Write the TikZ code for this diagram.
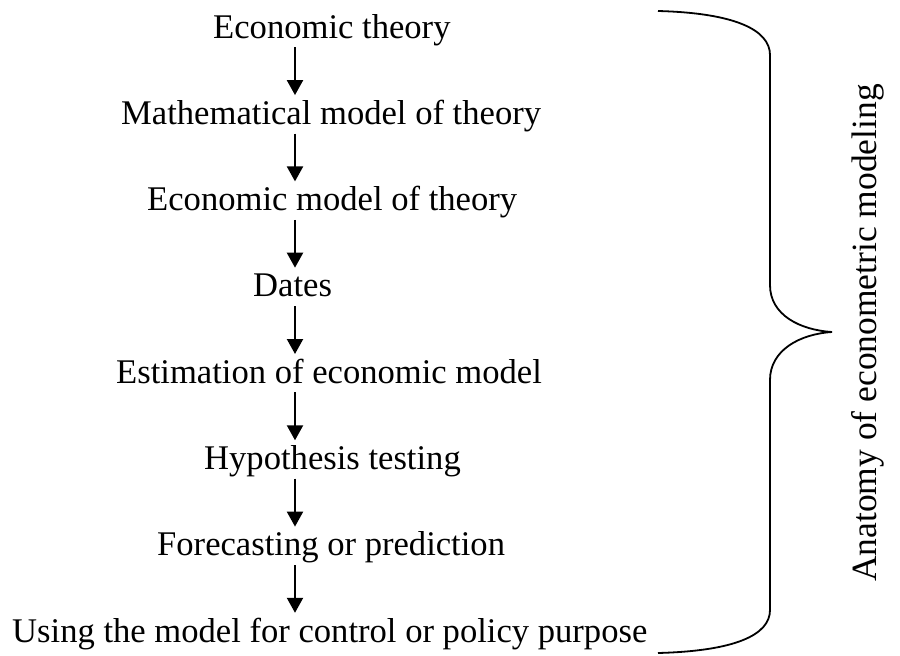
\documentclass[tikz,border=0pt]{standalone}
\usepackage{fontspec}
\setmainfont{Liberation Serif}
\usetikzlibrary{arrows.meta}
\begin{document}
\begin{tikzpicture}[x=1pt,y=-1pt,
  lbl/.style={anchor=base west,inner sep=0pt,text height=22pt,text depth=9pt,font=\fontsize{34.6}{40}\selectfont},
  arr/.style={line width=2.2pt,-{Triangle[width=16pt,length=15pt]},shorten >=7pt},
  brace/.style={line width=1.8pt}]
\useasboundingbox (0,0) rectangle (900,656);
\coordinate (ax) at (295,0);
\node[lbl] (n0) at (213,38) {Economic theory};
\node[lbl] (n1) at (121,124.3) {Mathematical model of theory};
\node[lbl] (n2) at (147,210.6) {Economic model of theory};
\node[lbl] (n3) at (253,296.9) {Dates};
\node[lbl] (n4) at (116,383.2) {Estimation of economic model};
\node[lbl] (n5) at (204,469.5) {Hypothesis testing};
\node[lbl] (n6) at (157,555.8) {Forecasting or prediction};
\node[lbl] (n7) at (12,642) {Using the model for control or policy purpose};
\foreach \a/\b in {n0/n1,n1/n2,n2/n3,n3/n4,n4/n5,n5/n6,n6/n7}
  \draw[arr] (\a.south -| ax) -- (\b.north -| ax);
\draw[brace] (658,11) .. controls (735,13) and (770,30) .. (770,55)
  -- (770,285) .. controls (770,315) and (800,330) .. (832,332)
  .. controls (800,334) and (770,350) .. (770,380)
  -- (770,610) .. controls (770,635) and (735,651) .. (658,653);
\node[rotate=90,inner sep=0pt,font=\fontsize{35.5}{40}\selectfont] (lab) at (868,333) {Anatomy of econometric modeling};
\end{tikzpicture}
\end{document}
